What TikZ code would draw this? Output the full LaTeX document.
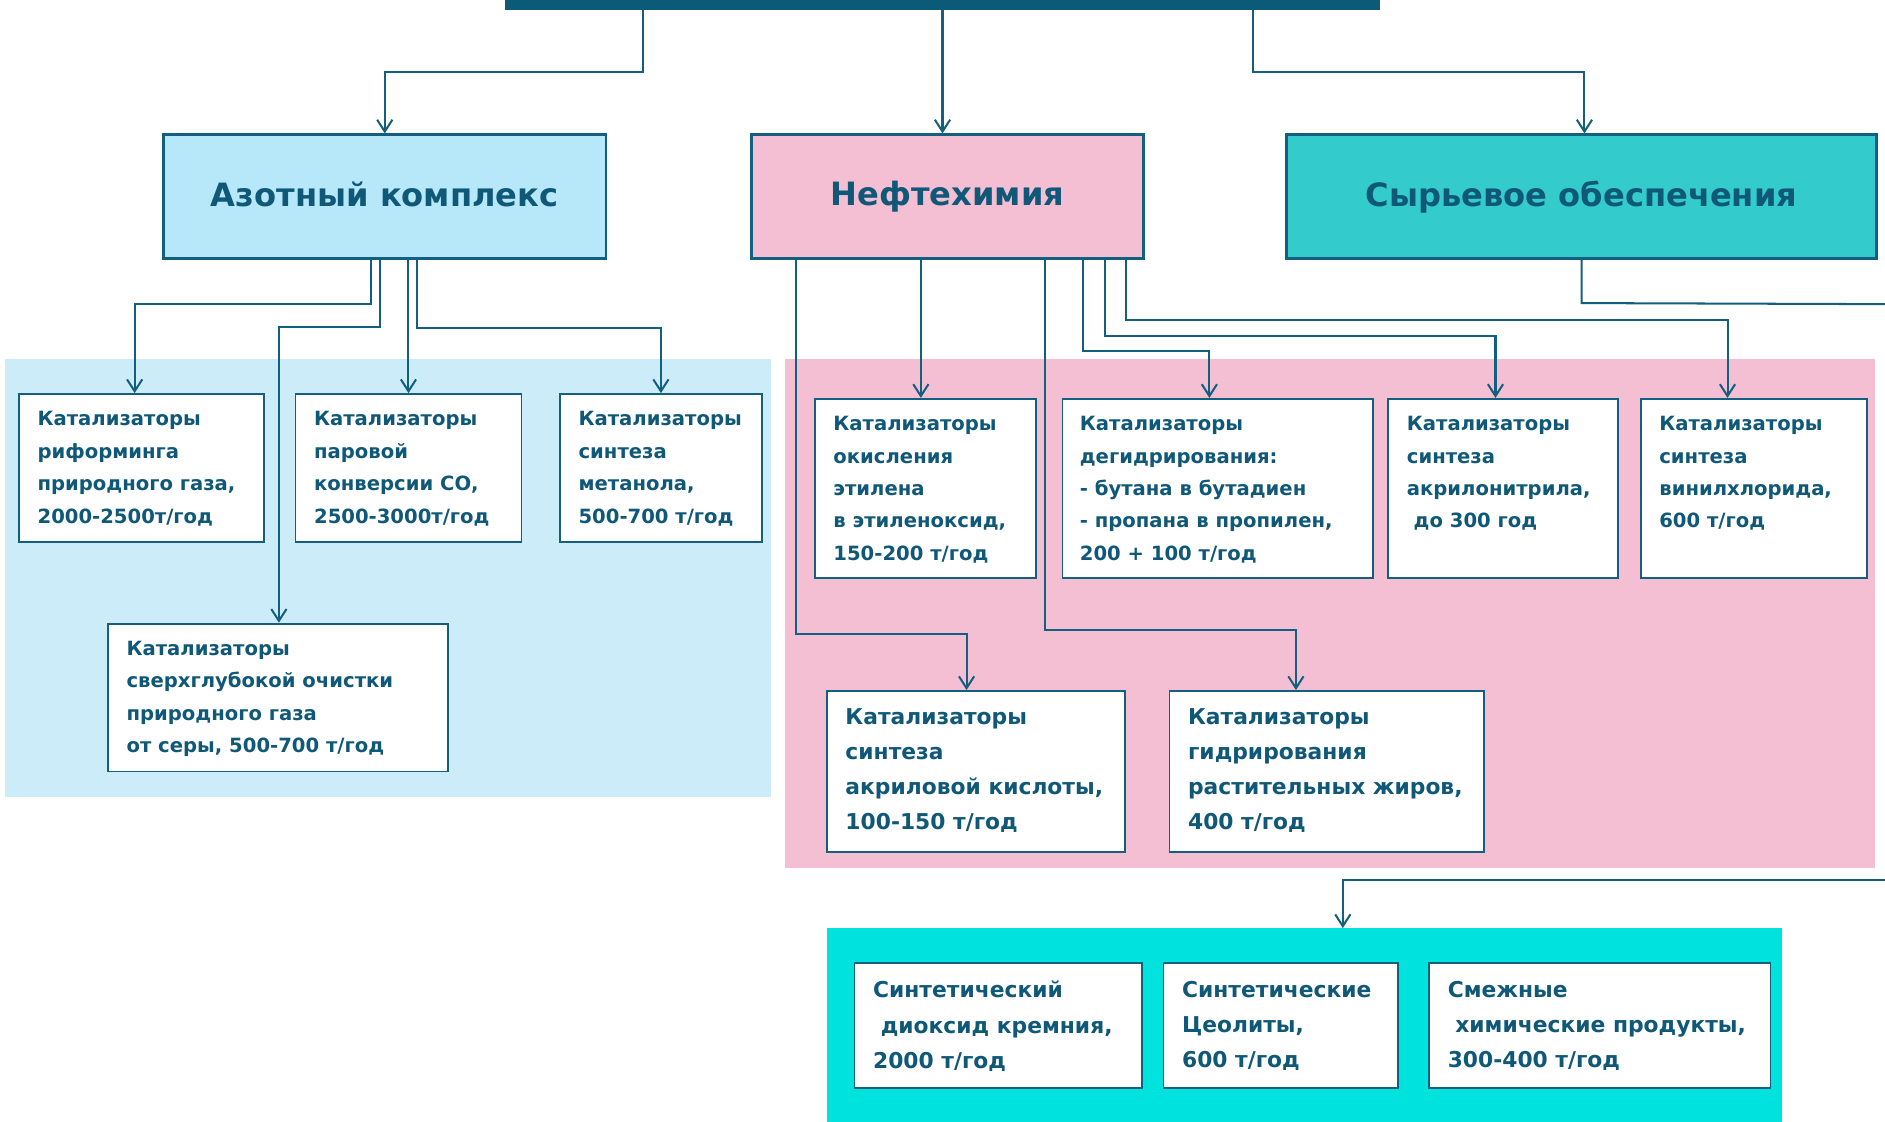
\documentclass[tikz,border=0pt]{standalone}
\usepackage{fontspec}
\setmainfont{DejaVu Sans}
\usetikzlibrary{arrows.meta,calc}
\definecolor{linec}{HTML}{135F7F}
\definecolor{textc}{HTML}{0F5878}
\definecolor{topc}{HTML}{0B5A78}
\definecolor{azotc}{HTML}{B7E8FA}
\definecolor{azpanelc}{HTML}{CCECFA}
\definecolor{neftc}{HTML}{F5BFD3}
\definecolor{syrc}{HTML}{33CBCC}
\definecolor{rawc}{HTML}{00E2DE}
\newcommand{\px}{0.025cm}
\begin{document}
\begin{tikzpicture}[x=\px,y=-\px,>={Straight Barb[length=7pt,width=9pt]}]
    \tikzstyle{panel}=[anchor=north west,inner sep=0,draw=none]
    \tikzstyle{head box}=[anchor=north west,draw=linec,line width=1.5pt,inner sep=0,text=textc,font=\fontsize{19}{22}\selectfont\bfseries]
    \tikzstyle{cat box}=[anchor=north west,draw=linec,line width=1.1pt,fill=white,inner sep=0]
    \tikzstyle{cat text}=[anchor=north west,align=left,inner sep=0,text=textc,font=\fontsize{11.6}{19.2}\selectfont\bfseries]
    \tikzstyle{big text}=[cat text,font=\fontsize{12.9}{20.8}\selectfont\bfseries]
    \tikzstyle{link}=[draw=linec,line width=1.2pt]

    \useasboundingbox (0,0) rectangle (1568,933);

    % panels
    \node[panel,fill=topc,minimum width=728*\px,minimum height=8*\px] (top) at (420,0) {};
    \node[panel,fill=azpanelc,minimum width=637*\px,minimum height=365*\px] (azpanel) at (4,298) {};
    \node[panel,fill=neftc,minimum width=906*\px,minimum height=424*\px] (nfpanel) at (653,298) {};
    \node[panel,fill=rawc,minimum width=794*\px,minimum height=170*\px] (rawpanel) at (688,772) {};

    % headings
    \node[head box,fill=azotc,minimum width=368*\px,minimum height=103*\px] (azot) at (135,111) {\raisebox{0.12cm}{Азотный комплекс}};
    \node[head box,fill=neftc,minimum width=326*\px,minimum height=103*\px] (neft) at (624,111) {\raisebox{0.08cm}{Нефтехимия}};
    \node[head box,fill=syrc,minimum width=491*\px,minimum height=103*\px] (syr) at (1069,111) {\raisebox{0.08cm}{Сырьевое обеспечения}};

    % nitrogen group
    \node[cat box,minimum width=204*\px,minimum height=123*\px] (b1) at (15,327) {};
    \node[cat box,minimum width=188*\px,minimum height=123*\px] (b2) at (245,327) {};
    \node[cat box,minimum width=168*\px,minimum height=123*\px] (b3) at (465,327) {};
    \node[cat box,minimum width=283*\px,minimum height=123*\px] (b4) at (89,518) {};
    \node[cat text] (b1t) at ([shift={(16,15)}]b1.north west) {Катализаторы\\риформинга\\природного газа,\\2000-2500т/год};
    \node[cat text] (b2t) at ([shift={(16,15)}]b2.north west) {Катализаторы\\паровой\\конверсии СО,\\2500-3000т/год};
    \node[cat text] (b3t) at ([shift={(16,15)}]b3.north west) {Катализаторы\\синтеза\\метанола,\\500-700 т/год};
    \node[cat text] (b4t) at ([shift={(16,15)}]b4.north west) {Катализаторы\\сверхглубокой очистки\\природного газа\\от серы, 500-700 т/год};

    % petrochemistry group
    \node[cat box,minimum width=184*\px,minimum height=149*\px] (p1) at (677,331) {};
    \node[cat box,minimum width=258*\px,minimum height=149*\px] (p2) at (883,331) {};
    \node[cat box,minimum width=191*\px,minimum height=149*\px] (p3) at (1154,331) {};
    \node[cat box,minimum width=188*\px,minimum height=149*\px] (p4) at (1364,331) {};
    \node[cat box,minimum width=248*\px,minimum height=134*\px] (p5) at (687,574) {};
    \node[cat box,minimum width=262*\px,minimum height=134*\px] (p6) at (972,574) {};
    \node[cat text] (p1t) at ([shift={(16,15)}]p1.north west) {Катализаторы\\окисления\\этилена\\в этиленоксид,\\150-200 т/год};
    \node[cat text] (p2t) at ([shift={(15,15)}]p2.north west) {Катализаторы\\дегидрирования:\\- бутана в бутадиен\\- пропана в пропилен,\\200 + 100 т/год};
    \node[cat text] (p3t) at ([shift={(16,15)}]p3.north west) {Катализаторы\\синтеза\\акрилонитрила,\\\hspace*{0.35em}до 300 год};
    \node[cat text] (p4t) at ([shift={(16,15)}]p4.north west) {Катализаторы\\синтеза\\винилхлорида,\\600 т/год};
    \node[big text] (p5t) at ([shift={(16,15)}]p5.north west) {Катализаторы\\синтеза\\акриловой кислоты,\\100-150 т/год};
    \node[big text] (p6t) at ([shift={(16,15)}]p6.north west) {Катализаторы\\гидрирования\\растительных жиров,\\400 т/год};

    % raw materials group
    \node[cat box,minimum width=239*\px,minimum height=104*\px] (c1) at (710,800) {};
    \node[cat box,minimum width=195*\px,minimum height=104*\px] (c2) at (967,800) {};
    \node[cat box,minimum width=284*\px,minimum height=104*\px] (c3) at (1188,800) {};
    \node[big text] (c1t) at ([shift={(16,16)}]c1.north west) {Синтетический\\\hspace*{0.35em}диоксид кремния,\\2000 т/год};
    \node[big text] (c2t) at ([shift={(16,16)}]c2.north west) {Синтетические\\Цеолиты,\\600 т/год};
    \node[big text] (c3t) at ([shift={(16,16)}]c3.north west) {Смежные\\\hspace*{0.35em}химические продукты,\\300-400 т/год};

    \coordinate (topmid) at ($(top.south west)+(364,0)$);
    \coordinate (p1in) at ($(p1.north west)+(89,0)$);
    \coordinate (exitR) at (1568,253);
    \coordinate (backR) at (1568,732);

    % connectors
    \draw[link,->] ($(top.south west)+(115,0)$) -- ++(0,51) -| (azot.north);
    \draw[link,->] (topmid) -- (topmid |- neft.north);
    \draw[link,->] ($(top.south west)+(622,0)$) -- ++(0,51) -| ($(syr.north west)+(249,0)$);

    \draw[link,->] ($(azot.south west)+(174,0)$) -- ++(0,37) -| ($(b1.north west)+(97,0)$);
    \draw[link,->] ($(azot.south west)+(181,0)$) -- ++(0,56) -| ($(b4.north west)+(143,0)$);
    \draw[link,->] (b2.north |- azot.south) -- (b2.north);
    \draw[link,->] ($(azot.south west)+(212,0)$) -- ++(0,57) -| (b3.north);

    \draw[link,->] ($(neft.south west)+(38,0)$) -- ++(0,311) -| ($(p5.north west)+(117,0)$);
    \draw[link,->] (p1in |- neft.south) -- (p1in);
    \draw[link,->] ($(neft.south west)+(245,0)$) -- ++(0,308) -| ($(p6.north west)+(106,0)$);
    \draw[link,->] ($(neft.south west)+(277,0)$) -- ++(0,76) -| ($(p2.north west)+(123,0)$);
    \draw[link,->] ($(neft.south west)+(295,0)$) -- ++(0,63) -| ($(p3.north west)+(90,0)$);
    \draw[link,->] ($(neft.south west)+(313,0)$) -- ++(0,50) -| ($(p4.north west)+(73,0)$);

    \draw[link] (syr.south) -- ++(0,36) -- (exitR);
    \draw[link,->] (backR) -| ($(rawpanel.north west)+(429,0)$);
\end{tikzpicture}
\end{document}
